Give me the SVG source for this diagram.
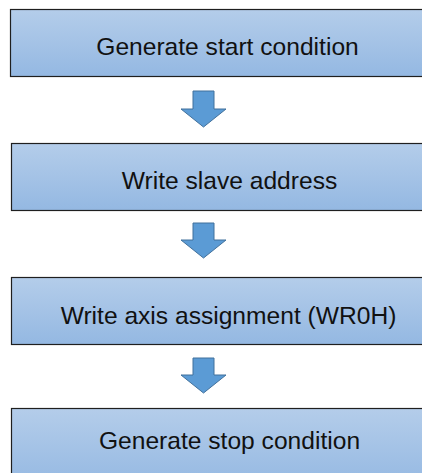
<svg xmlns="http://www.w3.org/2000/svg" width="422" height="473" viewBox="0 0 422 473">
<defs>
<linearGradient id="g" x1="0" y1="0" x2="0" y2="1">
<stop offset="0" stop-color="#b4cdea"/>
<stop offset="1" stop-color="#94b8e2"/>
</linearGradient>
<style>
.box{fill:url(#g);stroke:#1f1f1f;stroke-width:1.2}
.t{font-family:"Liberation Sans",Arial,sans-serif;font-size:24.6px;fill:#111;text-anchor:middle}
.arr{fill:#5b9bd5;stroke:#41719c;stroke-width:1}
</style>
</defs>
<rect width="422" height="473" fill="#fff"/>
<g id="n1"><rect class="box" x="10.5" y="9.5" width="430" height="67"/><text class="t" x="227.5" y="55">Generate start condition</text></g>
<g id="n2"><rect class="box" x="11.5" y="143.5" width="430" height="67"/><text class="t" x="229.5" y="189">Write slave address</text></g>
<g id="n3"><rect class="box" x="11.5" y="277.5" width="430" height="67"/><text class="t" x="228.5" y="324">Write axis assignment (WR0H)</text></g>
<g id="n4"><rect class="box" x="11.5" y="408.5" width="430" height="80"/><text class="t" x="229.5" y="449">Generate stop condition</text></g>
<g id="connectors">
<path class="arr" d="M193,91 H214 V109 H226 L203.5,127 L181,109 H193 Z"/>
<path class="arr" d="M193,223 H214 V240 H226 L203.5,258 L181,240 H193 Z"/>
<path class="arr" d="M193,358 H214 V375 H226 L203.5,393 L181,375 H193 Z"/>
</g>
</svg>
